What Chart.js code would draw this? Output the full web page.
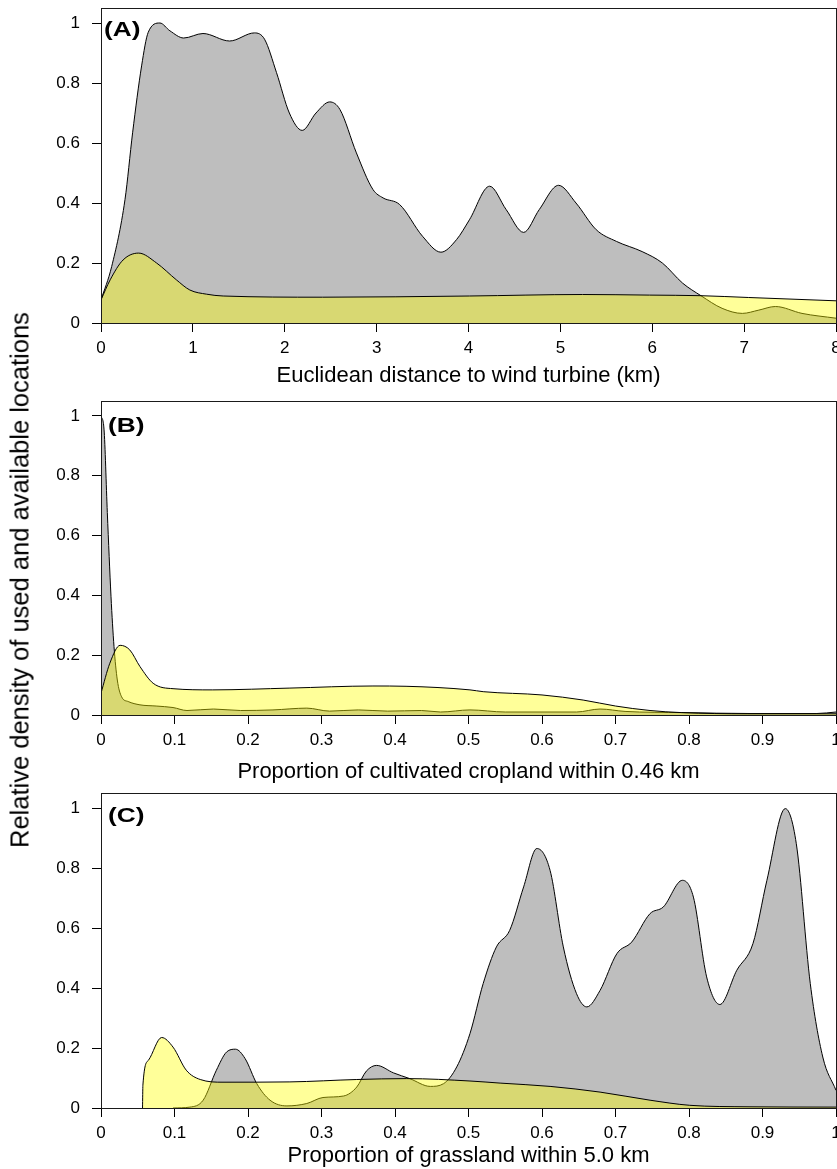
<!DOCTYPE html>
<html><head><meta charset="utf-8">
<script src="https://cdn.jsdelivr.net/npm/chart.js@4.4.1/dist/chart.umd.min.js"></script>
<style>
html,body{margin:0;padding:0;background:#fff;overflow:hidden;}
#wrap{position:relative;width:837px;height:1169px;background:#fff;}
.pane{position:absolute;left:0;}
#ytitle{position:absolute;left:20px;top:580px;transform:translate(-50%,-50%) rotate(-90deg);white-space:nowrap;font-family:"Liberation Sans",Arial,sans-serif;font-size:25.5px;line-height:normal;color:#000;}
</style></head><body>
<div id="wrap">
 <canvas id="cA" class="pane" width="837" height="392" style="top:0px"></canvas>
 <canvas id="cB" class="pane" width="837" height="392" style="top:392px"></canvas>
 <canvas id="cC" class="pane" width="837" height="385" style="top:784px"></canvas>
 <div id="ytitle">Relative density of used and available locations</div>
</div>
<script>
// ---- Panel A: Euclidean distance to wind turbine (km) ----
const aUsedX = [0, 0.116, 0.261, 0.344, 0.442, 0.514, 0.641, 0.75, 0.90, 1.11, 1.40, 1.67, 1.78, 1.91, 2.05, 2.19, 2.34, 2.49, 2.60, 2.78, 2.96, 3.07, 3.25, 3.50, 3.70, 3.87, 4.01, 4.23, 4.41, 4.60, 4.77, 4.98, 5.17, 5.39, 5.61, 5.89, 6.11, 6.33, 6.53, 6.76, 6.98, 7.16, 7.34, 7.63, 8.0];
const aUsedY = [0.077, 0.188, 0.411, 0.634, 0.857, 0.969, 1.0, 0.974, 0.95, 0.965, 0.94, 0.967, 0.946, 0.835, 0.70, 0.642, 0.70, 0.737, 0.712, 0.567, 0.445, 0.417, 0.395, 0.289, 0.236, 0.278, 0.344, 0.456, 0.378, 0.302, 0.378, 0.459, 0.40, 0.311, 0.272, 0.238, 0.20, 0.133, 0.091, 0.049, 0.032, 0.043, 0.055, 0.032, 0.016];
const aAvailX = [0, 0.10, 0.24, 0.41, 0.605, 0.82, 0.967, 1.15, 1.33, 2.41, 4.01, 5.24, 5.97, 6.53, 7.05, 8.0];
const aAvailY = [0.077, 0.144, 0.21, 0.233, 0.20, 0.144, 0.11, 0.096, 0.09, 0.086, 0.09, 0.095, 0.093, 0.091, 0.085, 0.074];

// ---- Panel B: Proportion of cultivated cropland within 0.46 km ----
const bUsedX = [0, 0.0041, 0.0086, 0.0136, 0.0177, 0.0222, 0.028, 0.037, 0.053, 0.075, 0.098, 0.117, 0.153, 0.19, 0.234, 0.28, 0.311, 0.35, 0.39, 0.436, 0.462, 0.502, 0.55, 0.647, 0.679, 0.713, 0.792, 0.883, 0.974, 1.0];
const bUsedY = [1.0, 0.956, 0.677, 0.397, 0.229, 0.117, 0.061, 0.045, 0.034, 0.03, 0.025, 0.015, 0.02, 0.015, 0.017, 0.023, 0.013, 0.017, 0.013, 0.015, 0.01, 0.017, 0.01, 0.01, 0.02, 0.012, 0.008, 0.005, 0.005, 0.01];
const bAvailX = [0, 0.012, 0.026, 0.039, 0.053, 0.071, 0.098, 0.152, 0.257, 0.37, 0.415, 0.502, 0.52, 0.60, 0.656, 0.70, 0.747, 0.79, 0.88, 1.0];
const bAvailY = [0.073, 0.173, 0.233, 0.218, 0.162, 0.106, 0.088, 0.084, 0.09, 0.097, 0.096, 0.084, 0.078, 0.067, 0.05, 0.03, 0.015, 0.008, 0.004, 0.004];

// ---- Panel C: Proportion of grassland within 5.0 km ----
const cUsedX = [0.098, 0.121, 0.139, 0.157, 0.171, 0.183, 0.196, 0.212, 0.23, 0.253, 0.28, 0.302, 0.33, 0.348, 0.361, 0.375, 0.398, 0.42, 0.448, 0.466, 0.484, 0.502, 0.52, 0.538, 0.556, 0.575, 0.593, 0.611, 0.629, 0.647, 0.661, 0.679, 0.702, 0.722, 0.747, 0.765, 0.791, 0.806, 0.824, 0.842, 0.865, 0.887, 0.906, 0.931, 0.946, 0.965, 0.982, 1.0];
const cUsedY = [0, 0.003, 0.026, 0.126, 0.187, 0.196, 0.165, 0.081, 0.026, 0.007, 0.015, 0.035, 0.04, 0.07, 0.123, 0.142, 0.117, 0.098, 0.072, 0.081, 0.137, 0.248, 0.415, 0.537, 0.592, 0.737, 0.865, 0.792, 0.537, 0.381, 0.337, 0.392, 0.515, 0.553, 0.648, 0.67, 0.759, 0.703, 0.437, 0.345, 0.459, 0.548, 0.759, 0.998, 0.881, 0.415, 0.17, 0.059];
const cAvailX = [0.0565, 0.057, 0.0645, 0.0825, 0.098, 0.116, 0.135, 0.166, 0.257, 0.348, 0.416, 0.502, 0.543, 0.611, 0.679, 0.747, 0.801, 0.883, 1.0];
const cAvailY = [0, 0.076, 0.159, 0.235, 0.203, 0.126, 0.095, 0.086, 0.087, 0.095, 0.098, 0.09, 0.083, 0.072, 0.053, 0.026, 0.009, 0.004, 0.003];

// ---- Tick values and labels ----
const distTicks = [0, 1, 2, 3, 4, 5, 6, 7, 8];
const distLabels = ['0', '1', '2', '3', '4', '5', '6', '7', '8'];
const propTicks = [0, 0.1, 0.2, 0.3, 0.4, 0.5, 0.6, 0.7, 0.8, 0.9, 1];
const propLabels = ['0', '0.1', '0.2', '0.3', '0.4', '0.5', '0.6', '0.7', '0.8', '0.9', '1'];
const densTicks = [0, 0.2, 0.4, 0.6, 0.8, 1];
const densLabels = ['0', '0.2', '0.4', '0.6', '0.8', '1'];

const FONT = '"Liberation Sans", Arial, sans-serif';
const pts = (xs, ys) => xs.map((x, i) => ({x: x, y: ys[i]}));

const boxPlugin = {
  id: 'box',
  afterDatasetsDraw(chart) {
    const ctx = chart.ctx, a = chart.chartArea;
    ctx.save();
    ctx.strokeStyle = '#1a1a1a'; ctx.lineWidth = 1;
    const l = Math.round(a.left) + 0.5, t = Math.round(a.top) + 0.5, r = Math.round(a.right) + 0.5, b = Math.round(a.bottom) + 0.5;
    ctx.strokeRect(l, t, r - l, b - t);
    ctx.restore();
  }
};
const labelPlugin = {
  id: 'panelLabel',
  afterDraw(chart, args, o) {
    const ctx = chart.ctx;
    ctx.save();
    ctx.font = 'bold 21px ' + FONT; ctx.fillStyle = '#000';
    ctx.textAlign = 'left'; ctx.textBaseline = 'alphabetic';
    ctx.translate(o.x, o.y); ctx.scale(o.sx, 1);
    ctx.fillText(o.text, 0, 0);
    ctx.restore();
  }
};

function makeChart(id, cfg) {
  const cv = document.getElementById(id);
  const H = cv.height;
  return new Chart(cv, {
    type: 'line',
    data: {datasets: [
      {label: 'Used', data: pts(cfg.usedX, cfg.usedY), borderColor: '#000', borderWidth: 1, backgroundColor: '#bebebe', fill: 'origin', pointRadius: 0, cubicInterpolationMode: 'monotone', order: 2},
      {label: 'Available', data: pts(cfg.availX, cfg.availY), borderColor: '#000', borderWidth: 1, backgroundColor: 'rgba(255,255,0,0.4)', fill: 'origin', pointRadius: 0, cubicInterpolationMode: 'monotone', order: 1}
    ]},
    options: {
      responsive: false, animation: false, devicePixelRatio: 1,
      layout: {padding: {left: 0, right: 1, top: cfg.top, bottom: 0}},
      plugins: {legend: {display: false}, tooltip: {enabled: false},
        panelLabel: {text: cfg.label, x: cfg.lx, y: cfg.ly, sx: 1.25}},
      scales: {
        x: {type: 'linear', min: 0, max: cfg.xMax,
          afterBuildTicks: s => { s.ticks = cfg.xTicks.map(v => ({value: v})); },
          afterFit: s => { s.height = H - cfg.bottom; s.paddingLeft = 0; s.paddingRight = 0; },
          ticks: {autoSkip: false, maxRotation: 0, minRotation: 0, padding: 6, color: '#000', font: {family: FONT, size: 17},
            callback: (v, i) => cfg.xLabels[i]},
          grid: {drawOnChartArea: false, drawTicks: true, tickLength: 9, color: '#000'},
          border: {display: true, color: '#000'},
          title: {display: true, text: cfg.title, color: '#000', font: {family: FONT, size: 22, lineHeight: 1}, padding: {top: 0, bottom: cfg.titlePad}}
        },
        y: {type: 'linear', min: 0, max: 1.05,
          afterBuildTicks: s => { s.ticks = densTicks.map(v => ({value: v})); },
          afterFit: s => { s.width = 101; s.paddingTop = 0; s.paddingBottom = 0; },
          ticks: {autoSkip: false, padding: 12, color: '#000', font: {family: FONT, size: 17},
            callback: (v, i) => densLabels[i]},
          grid: {drawOnChartArea: false, drawTicks: true, tickLength: 9, color: '#000'},
          border: {display: true, color: '#000'}
        }
      }
    },
    plugins: [boxPlugin, labelPlugin]
  });
}

makeChart('cA', {usedX: aUsedX, usedY: aUsedY, availX: aAvailX, availY: aAvailY, xMax: 8, xTicks: distTicks, xLabels: distLabels,
  title: 'Euclidean distance to wind turbine (km)', titlePad: 5, top: 8, bottom: 323, label: '(A)', lx: 104, ly: 35.7});
makeChart('cB', {usedX: bUsedX, usedY: bUsedY, availX: bAvailX, availY: bAvailY, xMax: 1, xTicks: propTicks, xLabels: propLabels,
  title: 'Proportion of cultivated cropland within 0.46 km', titlePad: 1.3, top: 9, bottom: 323, label: '(B)', lx: 108, ly: 40.4});
makeChart('cC', {usedX: cUsedX, usedY: cUsedY, availX: cAvailX, availY: cAvailY, xMax: 1, xTicks: propTicks, xLabels: propLabels,
  title: 'Proportion of grassland within 5.0 km', titlePad: 2, top: 9, bottom: 324, label: '(C)', lx: 108, ly: 37.7});
</script>
</body></html>
